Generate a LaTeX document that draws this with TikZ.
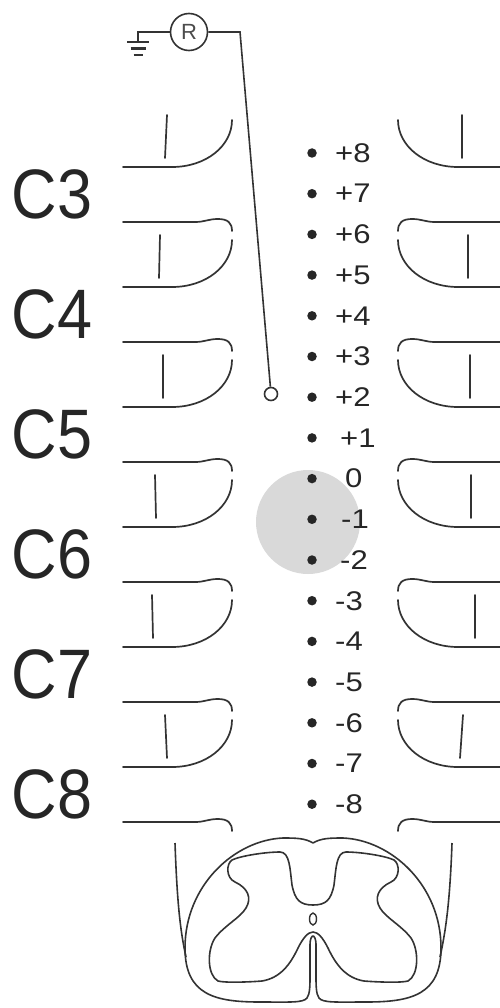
\documentclass[tikz,border=0pt]{standalone}
\usepackage{fontspec}
\setmainfont{Liberation Sans}
\newfontfamily\segfont[FakeStretch=0.9]{Liberation Sans}
\newfontfamily\levelfont[FakeStretch=1.15]{Liberation Sans}
\usetikzlibrary{positioning}

% left half of the cord outline, ventral fissure included
\newcommand{\cordhalf}{(313,843) .. controls (305,838) and (295,838) .. (283,838)
  .. controls (235,840) and (185,885) .. (185,948)
  .. controls (185,995) and (215,1002) .. (260,1002)
  .. controls (290,1002) and (303,1003) .. (307,998)
  .. controls (310,994) and (310,985) .. (310,975)
  -- (310,945) .. controls (310,938) and (312,936) .. (313,936)}
% left half of the grey matter
\newcommand{\hornhalf}{(313,905) .. controls (300,905) and (295,900) .. (292,885)
  .. controls (290,870) and (290,852) .. (280,852)
  .. controls (265,852) and (240,856) .. (232,860)
  .. controls (226,864) and (226,878) .. (235,882)
  .. controls (248,888) and (252,898) .. (246,908)
  .. controls (240,918) and (225,925) .. (215,938)
  .. controls (207,950) and (207,975) .. (218,981)
  .. controls (225,983) and (250,982) .. (262,981)
  .. controls (280,978) and (290,965) .. (298,948)
  .. controls (303,938) and (308,932) .. (313,932)}

\begin{document}
\begin{tikzpicture}[
  x=1pt, y=-1pt,
  bone/.style={line width=1.7pt, draw=black!80, line cap=round},
  cord/.style={line width=1.6pt, draw=black!80},
  wire/.style={line width=1.6pt, draw=black!80},
  contact/.style={circle, fill=black!85, inner sep=0pt, minimum size=9.5pt},
  level/.style={anchor=west, inner sep=0pt, text=black!85,
                font=\levelfont\fontsize{27}{27}\selectfont},
  segment/.style={inner sep=0pt, text=black!85,
                  font=\segfont\fontsize{70}{70}\selectfont}
]
\useasboundingbox (0,0) rectangle (499,1008);

% stimulated area
\fill[black!15] (308,522) circle (52pt);

% vertebrae, left side and mirrored right side
\foreach \s/\m in {1/0,-1/630}{
  \begin{scope}[xshift=\m pt, xscale=\s]
    \foreach \t in {222,342,462,582,702,822}
      \draw[bone] (123,\t) -- (195,\t) .. controls (205,\t) and (208,\t-3) .. (218,\t-3)
        .. controls (228,\t-3) and (232,\t+1) .. (232,\t+9);
    \foreach \b in {167,287,407,527,647,767}
      \draw[bone] (123,\b) -- (172,\b) .. controls (206,\b) and (232,\b-21) .. (232,\b-47);
  \end{scope}
}
\foreach \t/\xa/\xb/\xc/\xd in {102/167/165/462/462, 222/160/159/468/468,
    342/163/163/470/470, 462/155/156/471/471, 582/152/153/475/475, 702/165/167/463/460}{
  \draw[bone] (\xa,\t+13) -- (\xb,\t+56);
  \draw[bone] (\xc,\t+13) -- (\xd,\t+56);
}

% segment labels
\foreach \c [count=\k from 0] in {C3,C4,C5,C6,C7,C8}
  \node[segment] (seg\k) at (52,194+120*\k) {\c};

% contacts of the lead
\foreach \n/\lx [count=\k from 0] in {+8/335,+7/335,+6/335,+5/335,+4/335,+3/335,+2/335,
    +1/340,0/345,-1/341,-2/340,-3/335,-4/335,-5/335,-6/335,-7/335,-8/335}{
  \node[contact] (e\k) at (312,153+40.7*\k) {};
  \node[level] (l\k) at (\lx,153+40.7*\k) {\n};
}

% reference and recording electrode
\node[circle, wire, draw, minimum size=37pt, inner sep=0pt, text=black!70,
      font=\fontsize{22}{22}\selectfont] (ref) at (189,32) {R};
\node[circle, wire, draw, minimum size=13pt, inner sep=0pt] (tip) at (271,394) {};
\coordinate (bend) at (240,32);
\coordinate (earth) at (138,42);
\draw[wire] (ref) -- (bend) -- (tip);
\draw[wire] (ref) -| (earth);
\draw[line width=2.2pt, black!80] (earth) ++(-11,0) -- ++(22,0)
  (earth) ++(-7.5,6.5) -- ++(15,0) (earth) ++(-4.5,13) -- ++(9,0);

% spinal cord section
\draw[cord] (175,843) .. controls (177,900) and (180,930) .. (186,957);
\draw[cord] (452,843) .. controls (450,900) and (446,930) .. (440,957);
\draw[cord] \cordhalf;
\draw[cord] \hornhalf;
\begin{scope}[xshift=626pt, xscale=-1]
  \draw[cord] \cordhalf;
  \draw[cord] \hornhalf;
\end{scope}
\draw[cord, line width=1.4pt] (313,919) ellipse (3.5pt and 6pt);
\end{tikzpicture}
\end{document}
